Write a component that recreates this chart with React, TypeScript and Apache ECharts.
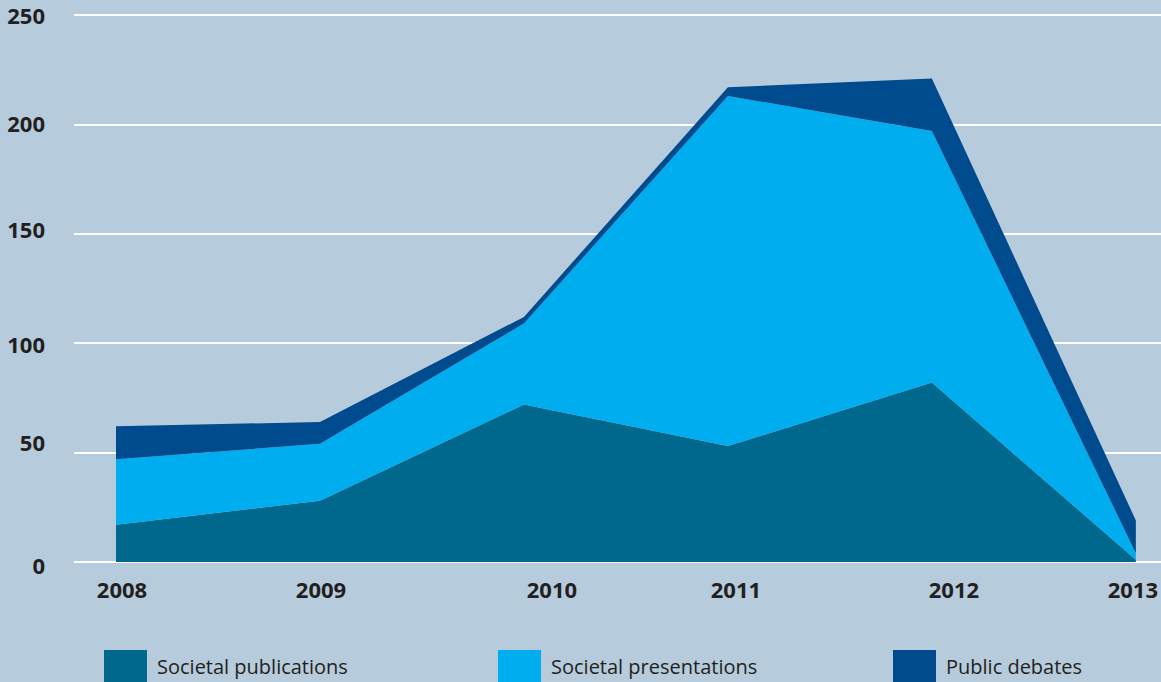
import React, { useEffect, useRef } from "react";
import * as echarts from "echarts";

const years = ["2008", "2009", "2010", "2011", "2012", "2013"];
const societalPublications = [17, 28, 72, 53, 82, 1];
const societalPresentations = [30, 26, 37, 160, 115, 3];
const publicDebates = [15, 10, 3, 4, 24, 15];
const yTicks = [0, 50, 100, 150, 200, 250];

const seriesNames = ["Societal publications", "Societal presentations", "Public debates"];
const colors = ["#00688c", "#00adee", "#004a8e"];

// horizontal label nudges (px) to mirror the reference's hand-placed year labels
const xLabelShift: Record<string, number> = { "2008": 6, "2009": 1, "2010": 28, "2011": 8, "2012": 22, "2013": -3 };
// vertical nudges (px, negative = up) for y labels
const yLabelShift: Record<string, number> = { "0": 3, "50": -11, "100": 1, "150": -5, "200": -1, "250": 0 };

const FONT = "'Open Sans', 'Noto Sans', sans-serif";
const TXT = "#231f20";

export default function App() {
  const ref = useRef<HTMLDivElement>(null);
  useEffect(() => {
    if (!ref.current) return;
    const chart = echarts.init(ref.current, undefined, { renderer: "svg" });

    const xRich: Record<string, any> = {};
    years.forEach((y) => {
      const d = xLabelShift[y] || 0;
      xRich["x" + y] = {
        fontFamily: FONT, fontSize: 22, fontWeight: "bold", color: TXT,
        padding: d >= 0 ? [0, 0, 0, 2 * d] : [0, -2 * d, 0, 0],
      };
    });
    const yRich: Record<string, any> = {};
    yTicks.forEach((t) => {
      const s = yLabelShift[String(t)] || 0;
      yRich["y" + t] = {
        fontFamily: FONT, fontSize: 22, fontWeight: "bold", color: TXT,
        padding: s < 0 ? [0, 0, -2 * s, 0] : [2 * s, 0, 0, 0],
      };
    });

    const grids = [
      { left: 74, right: 0, top: 15, bottom: 120 },
      { left: 116, right: 24, top: 15, bottom: 120 },
    ];

    const data = [societalPublications, societalPresentations, publicDebates];

    chart.setOption({
      animation: false,
      backgroundColor: "#b6cbdc",
      grid: grids,
      xAxis: [
        { type: "value", gridIndex: 0, show: false, min: 0, max: 1 },
        {
          type: "category", gridIndex: 1, data: years, boundaryGap: false,
          axisLine: { show: false }, axisTick: { show: false }, splitLine: { show: false },
          axisLabel: {
            margin: 16,
            formatter: (v: string) => `{x${v}|${v}}`,
            rich: xRich,
          },
        },
      ],
      yAxis: [
        {
          type: "value", gridIndex: 0, min: 0, max: 250, interval: 50,
          axisLine: { show: false }, axisTick: { show: false },
          splitLine: { show: true, lineStyle: { color: "#ffffff", width: 2 } },
          axisLabel: {
            margin: 29,
            formatter: (v: number) => `{y${v}|${v}}`,
            rich: yRich,
          },
        },
        {
          type: "value", gridIndex: 1, min: 0, max: 250, interval: 50, show: false,
          splitLine: { show: false },
        },
      ],
      legend: seriesNames.map((n, i) => ({
        data: [{ name: n, icon: "rect" }],
        left: [104, 498, 893][i],
        top: 650,
        itemWidth: 43,
        itemHeight: 32,
        selectedMode: false,
        padding: 0,
        textStyle: { fontFamily: FONT, fontSize: 20, color: TXT, padding: [0, 0, 0, 5] },
      })),
      series: seriesNames.map((n, i) => ({
        name: n,
        type: "line",
        xAxisIndex: 1,
        yAxisIndex: 1,
        stack: "total",
        data: data[i],
        symbol: "none",
        lineStyle: { width: 0 },
        itemStyle: { color: colors[i] },
        areaStyle: { color: colors[i], opacity: 1 },
        z: 3,
      })),
    });
    return () => chart.dispose();
  }, []);
  return <div ref={ref} style={{ position: "fixed", left: 0, top: 0, width: 1161, height: 682 }} />;
}
